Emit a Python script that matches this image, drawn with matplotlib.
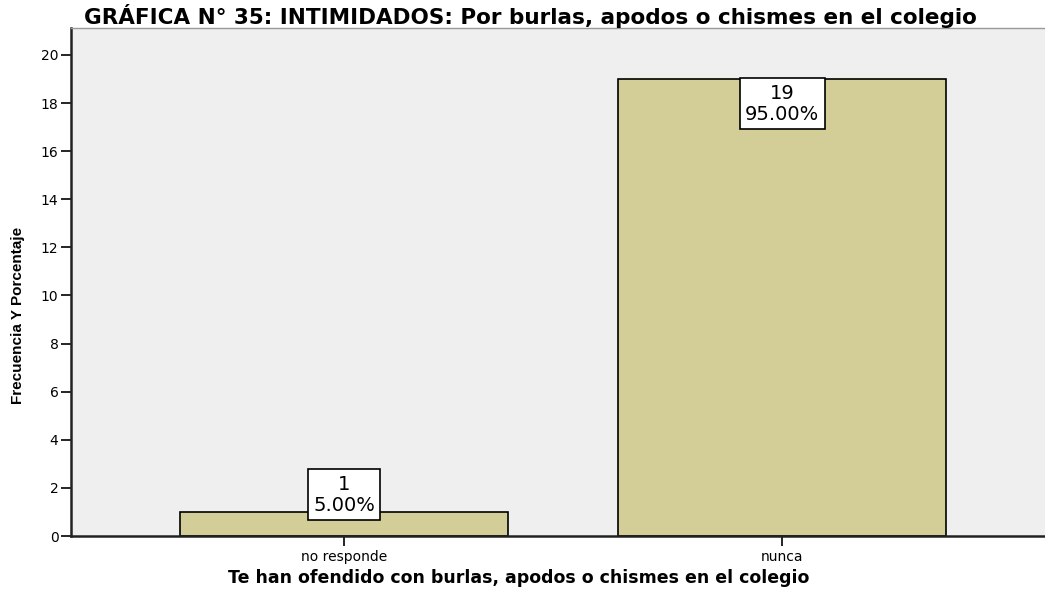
import matplotlib.pyplot as plt

# datos
categorias = ['no responde', 'nunca']
frecuencias = [1, 19]
porcentajes = ['5.00%', '95.00%']

plt.rcParams['font.family'] = ['DejaVu Sans']

fig = plt.figure(figsize=(10.45, 5.91), dpi=100)
ax = fig.add_axes([71 / 1045, 55 / 591, 1 - 71 / 1045, (536 - 28) / 591])
ax.set_facecolor('#efefef')

x = range(len(categorias))
ax.bar(x, frecuencias, width=0.75, color='#d3ce97', edgecolor='black', linewidth=1.2, zorder=2)

# etiquetas de cada barra
for i, (f, p) in enumerate(zip(frecuencias, porcentajes)):
    ytop = max(f, 2.75)
    ax.text(i, ytop - 0.2, '%d\n%s' % (f, p), ha='center', va='top', fontsize=14,
            linespacing=1.15, zorder=3,
            bbox=dict(boxstyle='square,pad=0.28', facecolor='white', edgecolor='black', linewidth=1.2))

ax.set_ylim(0, 21.12)
ax.set_xlim(-0.623, 1.600)
ax.set_yticks(range(0, 21, 2))
ax.set_xticks(list(x))
ax.set_xticklabels(categorias, fontsize=10)
ax.tick_params(axis='y', labelsize=10, length=7, width=1.2, pad=2)
ax.tick_params(axis='x', length=7, width=1.2, pad=3)

for s in ['left', 'bottom']:
    ax.spines[s].set_linewidth(1.8)
    ax.spines[s].set_color('#222222')
ax.spines['top'].set_color('#999999')
ax.spines['top'].set_linewidth(1)
ax.spines['right'].set_visible(False)

fig.text(530 / 1045, 1 - 16 / 591, 'GRÁFICA N° 35: INTIMIDADOS: Por burlas, apodos o chismes en el colegio',
         ha='center', va='center', fontsize=15.5, fontweight='bold')
fig.text(18 / 1045, 1 - 315 / 591, 'Frecuencia Y Porcentaje', rotation=90, ha='center', va='center',
         fontsize=11, fontweight='bold', family=['Liberation Sans Narrow', 'Liberation Sans'])
fig.text(519 / 1045, 1 - 578 / 591, 'Te han ofendido con burlas, apodos o chismes en el colegio',
         ha='center', va='center', fontsize=12.5, fontweight='bold')

plt.savefig('out.png', dpi=100)
